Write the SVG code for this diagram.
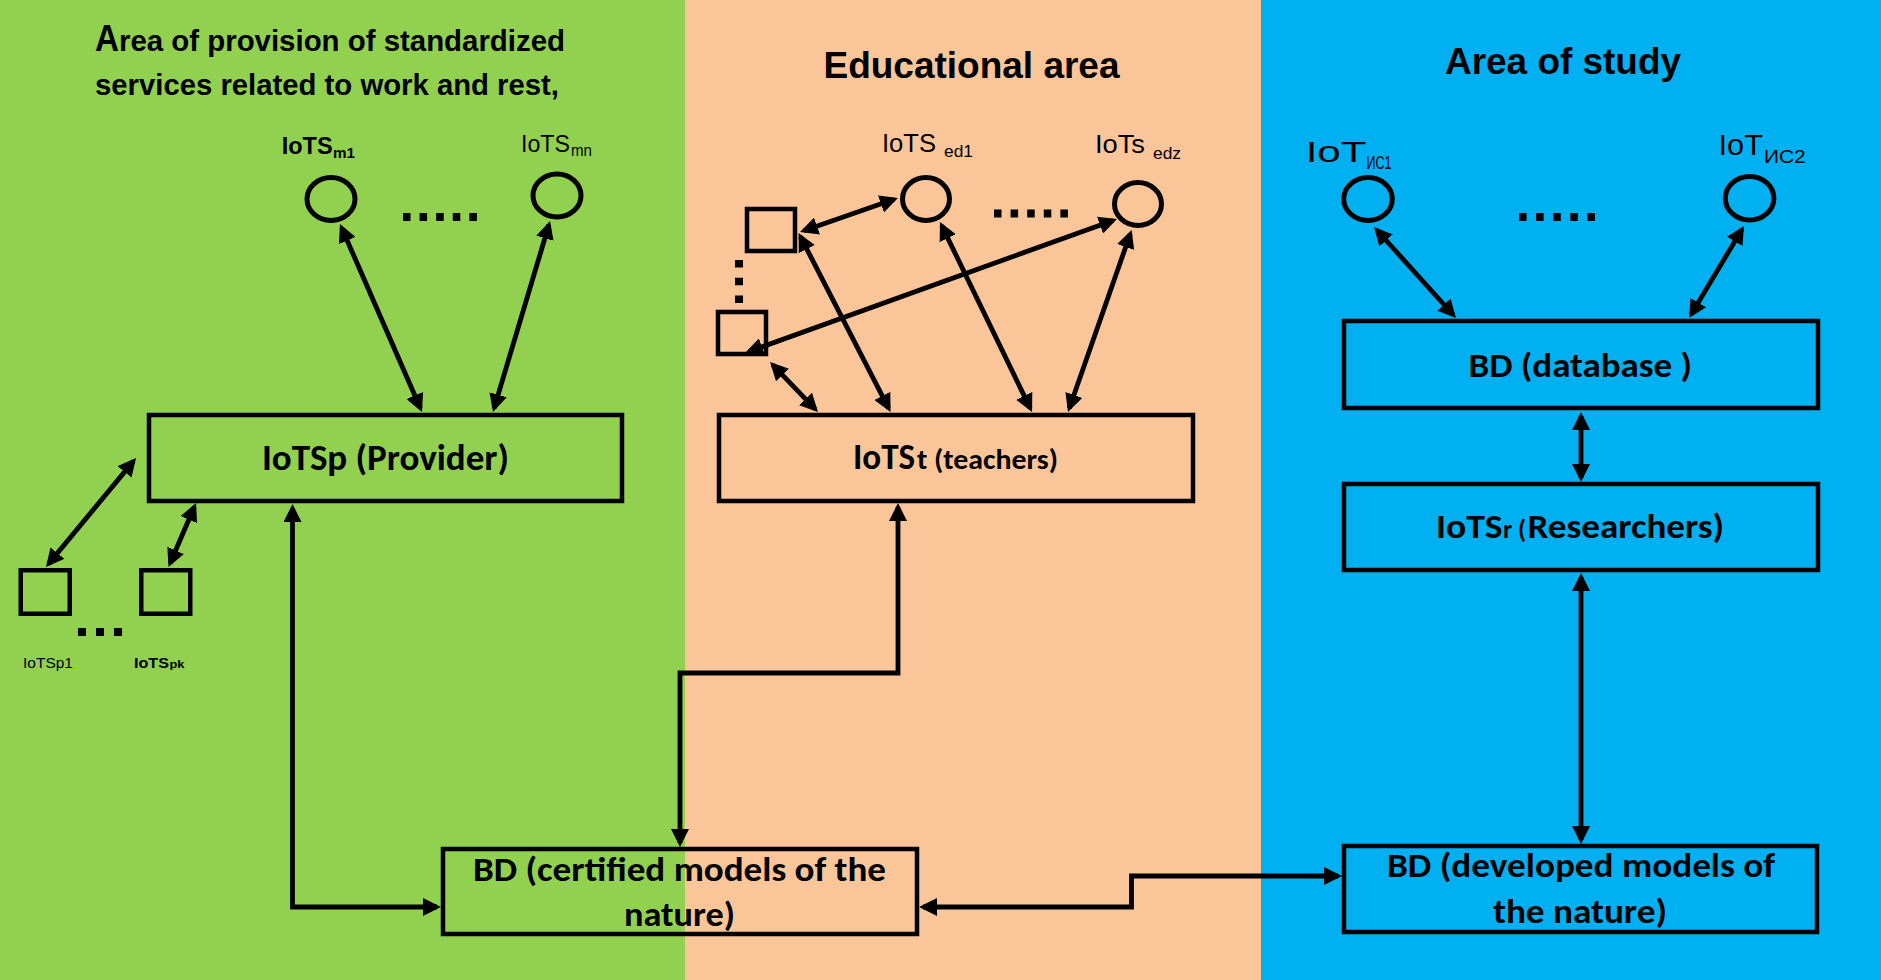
<svg xmlns="http://www.w3.org/2000/svg" width="1881" height="980" viewBox="0 0 1881 980">
<defs>
<style>
.box{fill:none;stroke:#000;stroke-width:4.5}
.node{fill:none;stroke:#000;stroke-width:5}
.con{fill:none;stroke:#000;stroke-width:4.8;marker-start:url(#ah);marker-end:url(#ah)}
.dots{stroke:#000;stroke-width:8}
.hd{font-family:"Liberation Sans",Arial,sans-serif;font-weight:bold;fill:#000}
.lb{font-family:"Liberation Sans",Arial,sans-serif;fill:#000}
.bx{font-family:Carlito,Calibri,Lato,sans-serif;font-weight:bold;fill:#000}
</style>
<marker id="ah" markerUnits="userSpaceOnUse" markerWidth="18" markerHeight="18" refX="14" refY="9" orient="auto-start-reverse">
<path d="M0,0 L18,9 L0,18 z" fill="#000"/>
</marker>
</defs>
<g id="background">
<rect x="0" y="0" width="685" height="980" fill="#92D050"/>
<rect x="685" y="0" width="576" height="980" fill="#FAC599"/>
<rect x="1261" y="0" width="620" height="980" fill="#00B0F0"/>
</g>
<g id="titles">
<text class="hd" x="95" y="51" font-size="37" textLength="24" lengthAdjust="spacingAndGlyphs">A</text>
<text class="hd" x="119" y="51" font-size="29.5" textLength="446" lengthAdjust="spacingAndGlyphs">rea of provision of standardized</text>
<text class="hd" x="95" y="95" font-size="29.5" textLength="464" lengthAdjust="spacingAndGlyphs">services related to work and rest,</text>
<text class="hd" x="823.5" y="78" font-size="37" textLength="296" lengthAdjust="spacingAndGlyphs">Educational area</text>
<text class="hd" x="1445" y="74" font-size="37" textLength="236" lengthAdjust="spacingAndGlyphs">Area of study</text>
</g>
<g id="connectors">
<line class="con" x1="341.6" y1="227.7" x2="420.4" y2="408.3"/>
<line class="con" x1="548.9" y1="224.8" x2="494.1" y2="408.2"/>
<line class="con" x1="133.5" y1="461.1" x2="48.5" y2="563.9"/>
<line class="con" x1="194.4" y1="506.7" x2="170.1" y2="563.3"/>
<path class="con" d="M292.5,508 V907 H437"/>
<path class="con" d="M898,507 V673 H680 V843"/>
<path class="con" d="M923,907 H1131.5 V876 H1338"/>
<path class="con" d="M1581,416 V478"/>
<path class="con" d="M1581,577 V840"/>
<line class="con" x1="1376.7" y1="230" x2="1453.3" y2="315"/>
<line class="con" x1="1741.9" y1="229.4" x2="1691.1" y2="314.6"/>
<line class="con" x1="803.8" y1="230.7" x2="894.2" y2="199.3"/>
<line class="con" x1="800.4" y1="236.6" x2="888.7" y2="408.4"/>
<line class="con" x1="941.7" y1="225.6" x2="1030.3" y2="408.4"/>
<line class="con" x1="748.8" y1="351.6" x2="1113.2" y2="220.4"/>
<line class="con" x1="772.8" y1="364.9" x2="815.2" y2="409.1"/>
<line class="con" x1="1130.3" y1="233.8" x2="1069.3" y2="408.2"/>
</g>
<g id="dots">
<line class="dots" x1="403" y1="217" x2="477" y2="217" stroke-dasharray="7.5 9.1"/>
<line class="dots" x1="994" y1="213.5" x2="1068" y2="213.5" stroke-dasharray="7.5 9.1"/>
<line class="dots" x1="1519" y1="217" x2="1595" y2="217" stroke-dasharray="7.5 9.6"/>
<line class="dots" x1="78" y1="632" x2="122" y2="632" stroke-dasharray="8 10"/>
<line class="dots" x1="739" y1="260" x2="739" y2="303" stroke-dasharray="7.5 10.25" stroke-width="7.5"/>
</g>
<g id="node-m1">
<ellipse class="node" cx="331" cy="199" rx="24" ry="21.5"/>
<text class="hd" x="281.7" y="154" font-size="24" textLength="51" lengthAdjust="spacingAndGlyphs">IoTS</text>
<text class="hd" x="333" y="158.3" font-size="15" textLength="22" lengthAdjust="spacingAndGlyphs">m1</text>
</g>
<g id="node-mn">
<ellipse class="node" cx="557" cy="195.5" rx="24" ry="21.5"/>
<text class="lb" x="521" y="151.7" font-size="24.5" textLength="49" lengthAdjust="spacingAndGlyphs">IoTS</text>
<text class="lb" x="571" y="156" font-size="16" textLength="21" lengthAdjust="spacingAndGlyphs">mn</text>
</g>
<g id="node-provider">
<rect class="box" x="149" y="415" width="473" height="86"/>
<text class="bx" x="262" y="470" font-size="36" textLength="247" lengthAdjust="spacingAndGlyphs">IoTSp (Provider)</text>
</g>
<g id="node-p1">
<rect class="box" x="20.75" y="570.25" width="49" height="43.5"/>
<text class="lb" x="23" y="668" font-size="15" textLength="50" lengthAdjust="spacingAndGlyphs">IoTSp1</text>
</g>
<g id="node-pk">
<rect class="box" x="141.25" y="570.25" width="49" height="43.5"/>
<text class="hd" x="134" y="668" font-size="15" textLength="35" lengthAdjust="spacingAndGlyphs">IoTS</text>
<text class="hd" x="169.5" y="668" font-size="11" textLength="15" lengthAdjust="spacingAndGlyphs">pk</text>
</g>
<g id="node-ed1">
<ellipse class="node" cx="926" cy="199" rx="23.5" ry="21.5"/>
<text class="lb" x="882" y="151.7" font-size="25.5" textLength="54" lengthAdjust="spacingAndGlyphs">IoTS</text>
<text class="lb" x="944" y="156.7" font-size="17" textLength="29" lengthAdjust="spacingAndGlyphs">ed1</text>
</g>
<g id="node-edz">
<ellipse class="node" cx="1138" cy="204" rx="23.5" ry="21.5"/>
<text class="lb" x="1095" y="153" font-size="25.5" textLength="50" lengthAdjust="spacingAndGlyphs">IoTs</text>
<text class="lb" x="1153" y="159" font-size="17" textLength="28" lengthAdjust="spacingAndGlyphs">edz</text>
</g>
<g id="node-sq-top">
<rect class="box" x="747" y="209" width="48" height="42"/>
</g>
<g id="node-sq-bottom">
<rect class="box" x="718" y="312" width="48" height="42"/>
</g>
<g id="node-teachers">
<rect class="box" x="719" y="415" width="474" height="86"/>
<text class="bx" x="853" y="469" font-size="37" textLength="62" lengthAdjust="spacingAndGlyphs">IoTS</text>
<text class="bx" x="917" y="469" font-size="28" textLength="141" lengthAdjust="spacingAndGlyphs">t (teachers)</text>
</g>
<g id="node-bd-certified">
<rect class="box" x="443" y="849" width="474" height="85"/>
<text class="bx" x="473" y="881" font-size="35" textLength="413" lengthAdjust="spacingAndGlyphs">BD (certified models of the</text>
<text class="bx" x="624" y="926" font-size="35" textLength="111" lengthAdjust="spacingAndGlyphs">nature)</text>
</g>
<g id="node-ic1">
<ellipse class="node" cx="1368" cy="199" rx="24.3" ry="21.5"/>
<text class="lb" x="1305.7" y="161.7" font-size="30" textLength="60.7" lengthAdjust="spacingAndGlyphs">IoT</text>
<text class="lb" x="1366.4" y="169.3" font-size="18" textLength="25" lengthAdjust="spacingAndGlyphs">ИС1</text>
</g>
<g id="node-ic2">
<ellipse class="node" cx="1749.6" cy="198.3" rx="24.3" ry="21.8"/>
<text class="lb" x="1718.6" y="155" font-size="30" textLength="44.3" lengthAdjust="spacingAndGlyphs">IoT</text>
<text class="lb" x="1764" y="163.3" font-size="18" textLength="41.7" lengthAdjust="spacingAndGlyphs">ИС2</text>
</g>
<g id="node-bd-database">
<rect class="box" x="1344" y="321" width="474" height="87"/>
<text class="bx" x="1468.5" y="377" font-size="35" textLength="223.5" lengthAdjust="spacingAndGlyphs">BD (database )</text>
</g>
<g id="node-researchers">
<rect class="box" x="1344" y="484" width="474" height="86"/>
<text class="bx" x="1436" y="538" font-size="35" textLength="66.5" lengthAdjust="spacingAndGlyphs">IoTS</text>
<text class="bx" x="1503" y="538" font-size="27" textLength="23" lengthAdjust="spacingAndGlyphs">r (</text>
<text class="bx" x="1527.5" y="538" font-size="35" textLength="196.5" lengthAdjust="spacingAndGlyphs">Researchers)</text>
</g>
<g id="node-bd-developed">
<rect class="box" x="1344" y="846" width="473" height="86"/>
<text class="bx" x="1387" y="877" font-size="35" textLength="388" lengthAdjust="spacingAndGlyphs">BD (developed models of</text>
<text class="bx" x="1493" y="923" font-size="35" textLength="174" lengthAdjust="spacingAndGlyphs">the nature)</text>
</g>
</svg>
